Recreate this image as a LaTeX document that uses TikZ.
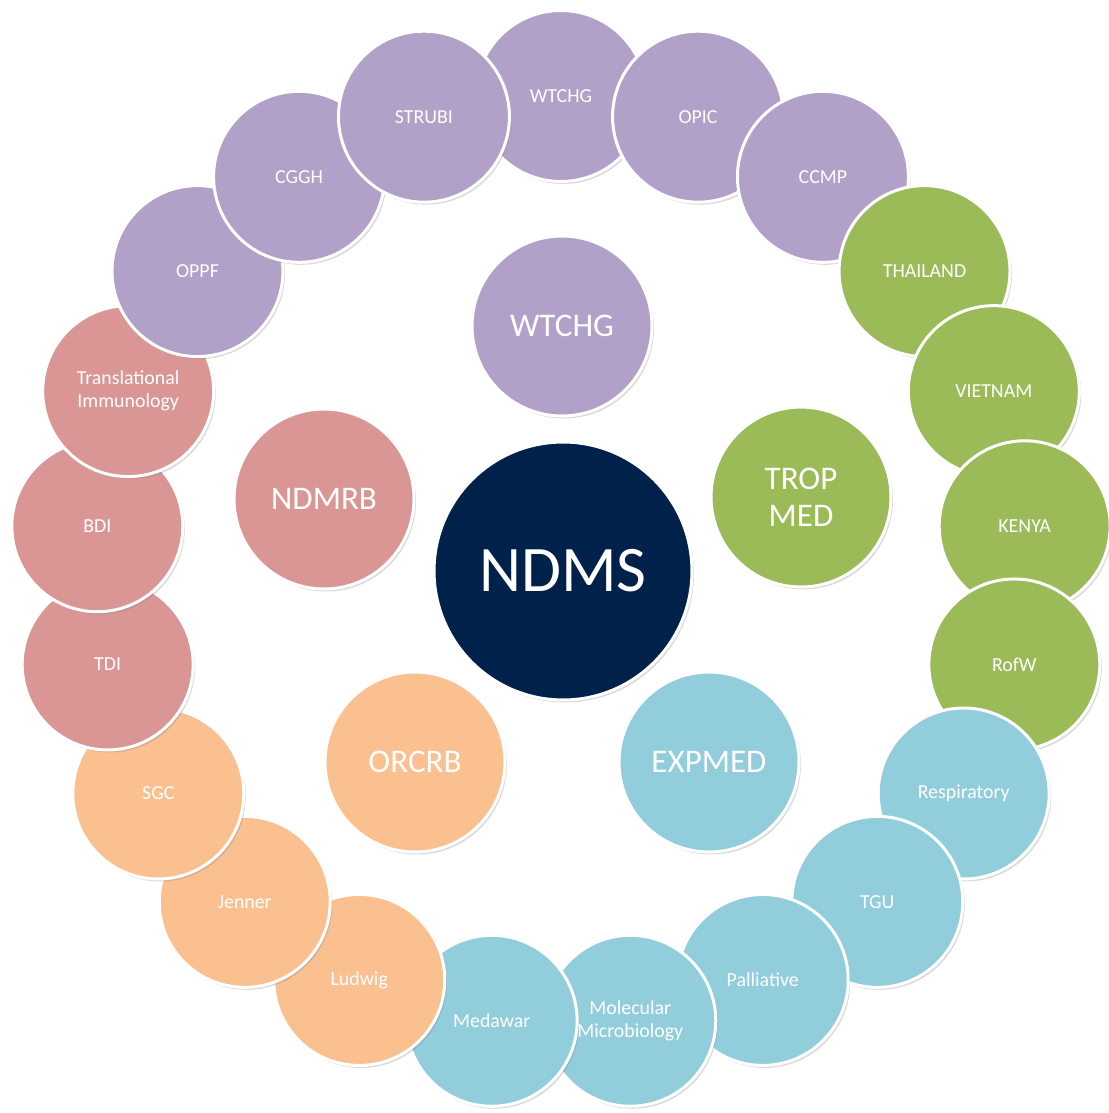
\documentclass[tikz,border=0pt]{standalone}
\usepackage{fontspec}
\setmainfont{Carlito}
\usetikzlibrary{shadows}

\definecolor{purp}{HTML}{B1A0C7}
\definecolor{grn}{HTML}{9BBB59}
\definecolor{blu}{HTML}{92CDDC}
\definecolor{org}{HTML}{FAC090}
\definecolor{pinkred}{HTML}{D99694}
\definecolor{navy}{HTML}{00214A}

\tikzset{
    bubble/.style={circle,draw=white,line width=0.06cm,inner sep=0pt,text=white,align=center,
            drop shadow={opacity=0.3,shadow xshift=0.04cm,shadow yshift=-0.05cm}},
    dept/.style={bubble,fill=#1,minimum size=3.42cm,font=\fontsize{11.3}{13}\selectfont},
    division/.style={bubble,fill=#1,minimum size=3.6cm,font=\fontsize{18.8}{21}\selectfont},
}

\begin{document}
\begin{tikzpicture}[x=0.02cm,y=-0.02cm]

    \useasboundingbox (0,0) rectangle (1109,1113);

    % outer ring, clockwise from the top
    \foreach \lbl/\col [count=\i from 0] in {WTCHG/purp,OPIC/purp,CCMP/purp,
            THAILAND/grn,VIETNAM/grn,KENYA/grn,RofW/grn,
            Respiratory/blu,TGU/blu,Palliative/blu,{Molecular\\Microbiology}/blu,Medawar/blu,
            Ludwig/org,Jenner/org,SGC/org,
            TDI/pinkred,BDI/pinkred,{Translational\\Immunology}/pinkred,
            OPPF/purp,CGGH/purp,STRUBI/purp} {
            \pgfmathsetmacro{\a}{\i*360/21}
            \node[dept=\col] (d\i) at ({561+465*sin(\a)},{561-465*cos(\a)}) {\lbl};
        }

    % divisions
    \node[division=purp] (wtchg) at (562,326) {WTCHG};
    \node[division=grn] (tropmed) at (801,497) {TROP\\MED};
    \node[division=blu] (expmed) at (709,762) {EXPMED};
    \node[division=org] (orcrb) at (415,762) {ORCRB};
    \node[division=pinkred] (ndmrb) at (324,499) {NDMRB};

    % centre
    \node[bubble,fill=navy,minimum size=5.16cm,font=\fontsize{37}{40}\selectfont] (ndms) at (563,571) {NDMS};

\end{tikzpicture}
\end{document}
